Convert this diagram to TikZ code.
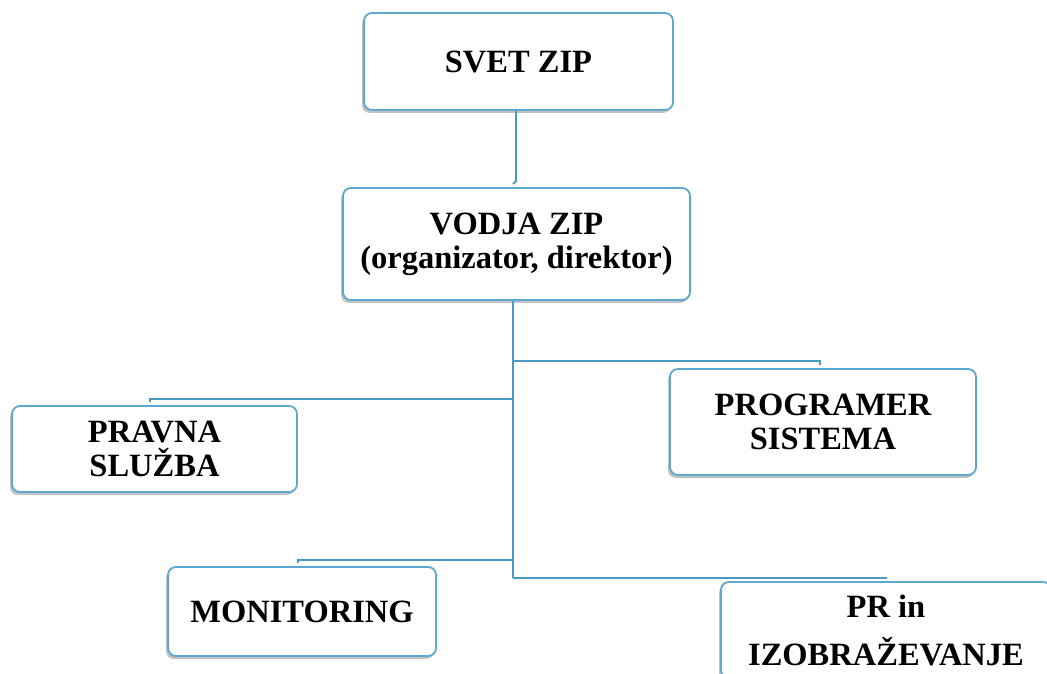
\documentclass[tikz,border=0pt]{standalone}
\usepackage{fontspec}
\setmainfont{Liberation Serif}
\usetikzlibrary{shadows}
\definecolor{boxline}{RGB}{92,168,208}
\definecolor{conn}{RGB}{74,152,196}
\begin{document}
\begin{tikzpicture}[x=1pt,y=1pt,
  box/.style={draw=boxline, line width=1.8pt, rounded corners=8pt, fill=white,
    align=center, inner sep=0pt,
    font=\fontsize{32.5}{34}\selectfont\bfseries,
    drop shadow={shadow xshift=-2pt, shadow yshift=-3pt, fill=black!40, opacity=0.6}},
  conn/.style={draw=conn, line width=1.8pt}]
\useasboundingbox (0,0) rectangle (1047,673);
% boxes (y = 673 - pixel y)
\node[box, minimum width=309pt, minimum height=97pt] (svet) at (518.5,611.5) {SVET ZIP};
\node[box, minimum width=347pt, minimum height=112pt] (vodja) at (516.5,429) {VODJA ZIP\\(organizator, direktor)};
\node[box, minimum width=285pt, minimum height=86pt] (pravna) at (154.5,224) {PRAVNA\\SLUŽBA};
\node[box, minimum width=306pt, minimum height=106pt] (programer) at (823,251) {PROGRAMER\\SISTEMA};
\node[box, minimum width=268pt, minimum height=89pt] (monitoring) at (302,61.5) {MONITORING};
\node[box, minimum width=330pt, minimum height=96pt, font=\fontsize{32.5}{48}\selectfont\bfseries] (pr) at (886,43) {PR in\\IZOBRAŽEVANJE};
% junctions
\coordinate (j1) at (513,312);
\coordinate (j2) at (513,274);
\coordinate (j3) at (513,113);
\coordinate (j4) at (513,95);
\coordinate (s1) at (516,492);
% connectors
\draw[conn] (svet.south -| s1) -- (s1) -- ++(-3,-3);
\draw[conn] (vodja.south -| j1) -- (j4);
\draw[conn] (j1) -| ([yshift=3pt]programer.north -| 820,0);
\draw[conn] (j2) -| ([yshift=3pt]pravna.north -| 150,0);
\draw[conn] (j3) -| ([yshift=3pt]monitoring.north -| 298,0);
\draw[conn] (j4) -| ([yshift=3pt]pr.north);
\end{tikzpicture}
\end{document}
